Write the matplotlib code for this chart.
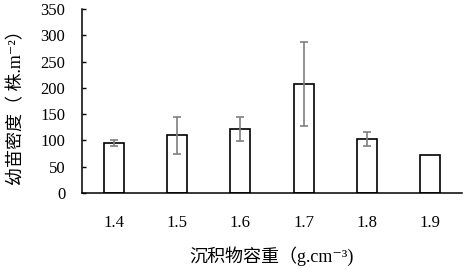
import matplotlib
matplotlib.use('Agg')
import matplotlib.pyplot as plt

plt.rcParams['font.family'] = ['Liberation Serif', 'Noto Sans CJK SC', 'DejaVu Sans']

# data
categories = ['1.4', '1.5', '1.6', '1.7', '1.8', '1.9']
density = [95, 110, 121, 207, 103, 72]
errors = [5, 35, 23, 80, 13, 0]

fig = plt.figure(figsize=(4.63, 2.69), dpi=100)
ax = fig.add_axes([82 / 463, 1 - 193 / 269, 380 / 463, 184 / 269])

x = list(range(len(categories)))
ax.bar(x, density, width=0.32, color='white', edgecolor='black', linewidth=1.2)
# the last bar has no error bar
ax.errorbar(x[:-1], density[:-1], yerr=errors[:-1], fmt='none', ecolor='#7f7f7f',
            elinewidth=1.2, capsize=2.9, capthick=1.2)

ax.set_xlim(-0.5, 5.5)
ax.set_ylim(0, 350)
ax.set_yticks(range(0, 351, 50))
ax.set_xticks(x)
ax.set_xticklabels(categories)
ax.tick_params(axis='y', direction='in', length=3, width=1, labelsize=12, pad=12)
ax.tick_params(axis='x', length=0, labelsize=12, pad=16)

for s in ['top', 'right']:
    ax.spines[s].set_visible(False)
ax.spines['left'].set_linewidth(1.1)
ax.spines['bottom'].set_linewidth(1.1)

ax.set_ylabel('幼苗密度（ 株.m⁻²）', fontsize=13, va='center')
ax.yaxis.set_label_coords(-0.172, 0.49)
ax.set_xlabel('沉积物容重（g.cm⁻³)', fontsize=13, va='center')
ax.xaxis.set_label_coords(0.5, -0.345)

plt.savefig('out.png', dpi=100)
